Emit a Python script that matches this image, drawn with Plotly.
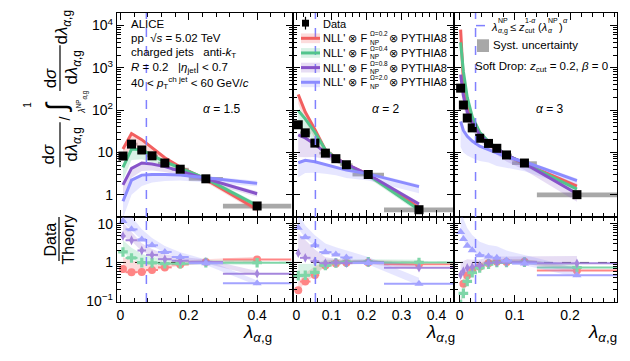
import plotly.graph_objects as go

# page is shown with the browser's 8 px body margin, so the figure is drawn
# 16 px smaller and every reference pixel position is shifted by 8 px
OX, OY = 8, 8
W, H = 614, 345

# ---------------- values ----------------
# alpha = 1.5
edges_a15 = [0, 0.015, 0.05, 0.075, 0.11, 0.15, 0.2, 0.3, 0.5]
data_a15 = [8.2, 15.7, 11.4, 8.3, 5.6, 4.0, 2.37, 0.54]
syst_a15 = [0.1, 0.08, 0.08, 0.07, 0.07, 0.08, 0.1, 0.13]
red_a15 = [12, 28, 20, 13, 7.5, 4.5, 2.3, 0.45]
green_a15 = [4.4, 12, 11.5, 8.5, 6.0, 4.3, 2.4, 0.55]
purple_a15 = [1.7, 4.2, 5.6, 5.3, 4.6, 3.6, 2.3, 1.05]
blue_a15 = [0.7, 2.2, 2.9, 3.0, 3.0, 2.9, 2.5, 1.85]
red_lo_a15 = [0.5, 0.5, 0.55, 0.65, 0.75, 0.8, 0.85, 0.85]
green_lo_a15 = [0.5, 0.55, 0.6, 0.7, 0.8, 0.85, 0.85, 0.85]
purple_lo_a15 = [0.45, 0.6, 0.65, 0.7, 0.75, 0.8, 0.85, 0.85]
blue_lo_a15 = [0.4, 0.45, 0.55, 0.65, 0.7, 0.75, 0.8, 0.85]
band_hi_a15 = [1.05, 1.05, 1.05, 1.05, 1.05, 1.08, 1.1, 1.15]

# alpha = 2
edges_a2 = [0, 0.01, 0.04, 0.065, 0.1, 0.125, 0.16, 0.25, 0.45]
data_a2 = [45, 29, 16.6, 9.6, 7.1, 5.1, 3.0, 0.44]
syst_a2 = [0.1, 0.08, 0.08, 0.07, 0.07, 0.08, 0.1, 0.13]
red_a2 = [235, 90, 35, 11.5, 7.5, 5.2, 3.0, 0.49]
green_a2 = [98, 62, 30, 11.5, 7.3, 5.0, 2.9, 0.44]
purple_a2 = [26, 22, 15.5, 10, 7.2, 5.3, 3.0, 0.6]
blue_a2 = [5.7, 6.5, 6.0, 5.2, 4.4, 3.8, 3.1, 1.55]
red_lo_a2 = [0.6, 0.6, 0.6, 0.75, 0.8, 0.85, 0.85, 0.85]
green_lo_a2 = [0.5, 0.5, 0.6, 0.7, 0.8, 0.85, 0.85, 0.85]
purple_lo_a2 = [0.3, 0.35, 0.5, 0.7, 0.8, 0.85, 0.85, 0.85]
blue_lo_a2 = [0.45, 0.5, 0.55, 0.6, 0.65, 0.65, 0.7, 0.7]
band_hi_a2 = [1.05, 1.05, 1.05, 1.05, 1.05, 1.08, 1.1, 1.12]

# alpha = 3
edges_a3 = [0, 0.004, 0.01, 0.018, 0.028, 0.045, 0.06, 0.075, 0.095, 0.14, 0.285]
data_a3 = [331, 132, 65, 38, 21.6, 16.3, 12.5, 8.7, 5.6, 1.0]
syst_a3 = [0.1, 0.08, 0.08, 0.07, 0.07, 0.07, 0.07, 0.08, 0.1, 0.13]
red_a3 = [8000, 470, 140, 60, 28, 17, 12, 8.5, 5.4, 1.6]
green_a3 = [4000, 825, 200, 70, 30, 18, 12.5, 8.7, 5.5, 1.35]
purple_a3 = [690, 220, 90, 50, 26, 17, 12.5, 8.7, 5.5, 1.05]
blue_a3 = [54, 33, 24, 18.5, 14, 11.5, 9.5, 7.8, 6.0, 2.15]
red_lo_a3 = [0.6, 0.65, 0.7, 0.75, 0.8, 0.8, 0.85, 0.85, 0.85, 0.85]
green_lo_a3 = [0.6, 0.65, 0.7, 0.75, 0.8, 0.8, 0.85, 0.85, 0.85, 0.85]
purple_lo_a3 = [0.5, 0.55, 0.6, 0.65, 0.7, 0.7, 0.7, 0.7, 0.7, 0.65]
blue_lo_a3 = [0.25, 0.3, 0.35, 0.4, 0.45, 0.5, 0.5, 0.55, 0.6, 0.65]
band_hi_a3 = [1.05, 1.05, 1.05, 1.05, 1.05, 1.05, 1.05, 1.08, 1.1, 1.12]

np_cut = [0.076, 0.054, 0.029]       # lambda^NP boundary per alpha
alpha_labels = ["1.5", "2", "3"]
omega_labels = ["0.2", "0.4", "0.8", "2.0"]

# ---------------- style ----------------
line_cols = ["#f25f5f", "#52c48c", "#8753c9", "#8c8cff"]
band_cols = ["rgba(242,95,95,0.22)", "rgba(82,196,140,0.22)",
             "rgba(135,83,201,0.2)", "rgba(140,140,255,0.22)"]
ratio_cols = ["#ff8585", "#7fd6a8", "#a586dc", "#a3a3ff"]
ratio_syms = ["circle", "cross", "diamond-tall", "triangle-up"]
np_col = "#8080ff"

panels = [
    dict(edges=edges_a15, data=data_a15, syst=syst_a15, hi=band_hi_a15,
         th=[red_a15, green_a15, purple_a15, blue_a15],
         lo=[red_lo_a15, green_lo_a15, purple_lo_a15, blue_lo_a15],
         xr=[-0.01, 0.505], dt=0.2, mdt=0.04),
    dict(edges=edges_a2, data=data_a2, syst=syst_a2, hi=band_hi_a2,
         th=[red_a2, green_a2, purple_a2, blue_a2],
         lo=[red_lo_a2, green_lo_a2, purple_lo_a2, blue_lo_a2],
         xr=[-0.01, 0.45], dt=0.1, mdt=0.02),
    dict(edges=edges_a3, data=data_a3, syst=syst_a3, hi=band_hi_a3,
         th=[red_a3, green_a3, purple_a3, blue_a3],
         lo=[red_lo_a3, green_lo_a3, purple_lo_a3, blue_lo_a3],
         xr=[-0.01, 0.285], dt=0.1, mdt=0.02),
]


def fx(px):
    return (px - OX) / W


def fy(py):
    return 1 - (py - OY) / H


# pixel layout of the panels (reference pixels)
xpix = [117, 293, 454, 617]
top_pix = [12, 221]
bot_pix = [221, 308]

fig = go.Figure()


def axid(n):
    return "" if n == 1 else str(n)


for i, p in enumerate(panels):
    e = p["edges"]
    cen = [(a + b) / 2 for a, b in zip(e[:-1], e[1:])]
    half = [(b - a) / 2 for a, b in zip(e[:-1], e[1:])]
    xt, yt = "x" + axid(i + 1), "y" + axid(i + 1)
    xb, yb = "x" + str(i + 4), "y" + str(i + 4)

    # theory bands (top)
    for k in range(4):
        c = p["th"][k]
        lo = [v * f for v, f in zip(c, p["lo"][k])]
        hi = [v * f for v, f in zip(c, p["hi"])]
        fig.add_trace(go.Scatter(x=cen + cen[::-1], y=hi + lo[::-1], fill="toself",
                                 fillcolor=band_cols[k], line=dict(width=0),
                                 mode="lines", xaxis=xt, yaxis=yt, hoverinfo="skip"))
    # systematic boxes
    fig.add_trace(go.Bar(x=cen, y=[d * 2 * s for d, s in zip(p["data"], p["syst"])],
                         base=[d * (1 - s) for d, s in zip(p["data"], p["syst"])],
                         width=[2 * h for h in half], marker=dict(color="#a8a8a8", line=dict(width=0)),
                         xaxis=xt, yaxis=yt))
    # theory lines
    for k in range(4):
        fig.add_trace(go.Scatter(x=cen, y=p["th"][k], mode="lines",
                                 line=dict(color=line_cols[k], width=3),
                                 xaxis=xt, yaxis=yt))
    # data
    fig.add_trace(go.Scatter(x=cen, y=p["data"], mode="markers",
                             marker=dict(symbol="square", size=9, color="black"),
                             xaxis=xt, yaxis=yt))

    # ratio panel
    fig.add_trace(go.Scatter(x=p["xr"], y=[1, 1], mode="lines",
                             line=dict(color="black", width=1, dash="dash"),
                             xaxis=xb, yaxis=yb))
    for k in range(4):
        c = p["th"][k]
        r = [d / v for d, v in zip(p["data"], c)]
        r_lo = [d / (v * f) for d, v, f in zip(p["data"], c, p["hi"])]
        r_hi = [d / (v * f) for d, v, f in zip(p["data"], c, p["lo"][k])]
        fig.add_trace(go.Scatter(x=cen + cen[::-1], y=r_hi + r_lo[::-1], fill="toself",
                                 fillcolor=band_cols[k], line=dict(width=0),
                                 mode="lines", xaxis=xb, yaxis=yb, hoverinfo="skip"))
        fig.add_trace(go.Scatter(x=cen, y=r, mode="markers",
                                 marker=dict(symbol=ratio_syms[k], size=8 if k != 2 else 7,
                                             color=ratio_cols[k]),
                                 error_x=dict(type="data", array=half, color=ratio_cols[k],
                                              thickness=2, width=0),
                                 xaxis=xb, yaxis=yb))

    # NP boundary
    for xa, ya in [(xt, yt), (xb, yb)]:
        fig.add_shape(type="line", xref=xa, yref=ya + " domain", x0=np_cut[i], x1=np_cut[i],
                      y0=0, y1=1, line=dict(color=np_col, width=1.5, dash="dash"))

# ---------------- axes ----------------
axis_common = dict(showline=True, linecolor="black", linewidth=1.3, mirror="allticks",
                   ticks="inside", ticklen=7, tickwidth=1, tickcolor="black",
                   showgrid=False, zeroline=False, tickfont=dict(size=14, color="black"))

minor_top = [m * 10 ** d for d in range(0, 5) for m in range(2, 10)]
minor_bot = [m * 10 ** d for d in range(-1, 2) for m in range(2, 10)]

lay = {}
for i, p in enumerate(panels):
    xd = [fx(xpix[i]), fx(xpix[i + 1])]
    lay["xaxis" + axid(i + 1)] = dict(axis_common, domain=xd, range=p["xr"], anchor="y" + axid(i + 1),
                                      dtick=p["dt"], tick0=0, showticklabels=False,
                                      minor=dict(ticks="inside", ticklen=4, dtick=p["mdt"], tick0=0,
                                                 tickcolor="black"))
    lay["xaxis" + str(i + 4)] = dict(axis_common, domain=xd, range=p["xr"], anchor="y" + str(i + 4),
                                     matches="x" + axid(i + 1), dtick=p["dt"], tick0=0,
                                     minor=dict(ticks="inside", ticklen=4, dtick=p["mdt"], tick0=0,
                                                tickcolor="black"))
    lay["yaxis" + axid(i + 1)] = dict(axis_common, type="log", range=[-0.53, 4.3],
                                      domain=[fy(top_pix[1]), fy(top_pix[0])],
                                      anchor="x" + axid(i + 1),
                                      tickvals=[1, 10, 100, 1000, 10000],
                                      ticktext=["1", "10", "10<sup>2</sup>", "10<sup>3</sup>", "10<sup>4</sup>"],
                                      showticklabels=(i == 0),
                                      minor=dict(ticks="inside", ticklen=4, tickvals=minor_top,
                                                 tickcolor="black"))
    lay["yaxis" + str(i + 4)] = dict(axis_common, type="log", range=[-1.02, 1.17],
                                     domain=[fy(bot_pix[1]), fy(bot_pix[0])],
                                     anchor="x" + str(i + 4),
                                     tickvals=[0.1, 1, 10], ticktext=["10<sup>\u22121</sup>", "1", "10"],
                                     showticklabels=(i == 0),
                                     minor=dict(ticks="inside", ticklen=4, tickvals=minor_bot,
                                                tickcolor="black"))

fig.update_layout(**lay)
fig.update_layout(width=W, height=H, margin=dict(l=0, r=0, t=0, b=0),
                  plot_bgcolor="white", paper_bgcolor="white", showlegend=False,
                  barmode="overlay", font=dict(family="Liberation Sans, Arial", color="black"))


# ---------------- text ----------------
def ann(x, y, text, size=12, angle=0, xanchor="center"):
    fig.add_annotation(x=fx(x), y=fy(y), xref="paper", yref="paper", text=text,
                       showarrow=False, font=dict(size=size), textangle=angle,
                       xanchor=xanchor, yanchor="middle", borderpad=0)


def pline(x0, y0, x1, y1, color="black", width=1.0, dash=None):
    fig.add_shape(type="line", xref="paper", yref="paper", x0=fx(x0), x1=fx(x1),
                  y0=fy(y0), y1=fy(y1), line=dict(color=color, width=width, dash=dash))


def prect(x0, y0, x1, y1, color):
    fig.add_shape(type="rect", xref="paper", yref="paper", x0=fx(x0), x1=fx(x1),
                  y0=fy(y0), y1=fy(y1), fillcolor=color, line=dict(width=0))


dl = "d<i>λ</i><sub><i>α</i>,g</sub>"
# y title (top)
ann(49, 157, "d<i>σ</i>", 17, -90)
ann(73, 147, dl, 17, -90)
pline(60, 124, 60, 170, width=1.2)
ann(65, 120, "/", 14, -90)
ann(57, 108, "∫", 28, -90)
ann(28, 106, "1", 10, -90)
ann(82, 103, "<i>λ</i><sup>NP</sup><sub><i>α</i>,g</sub>", 9, -90)
ann(50, 79, "d<i>σ</i>", 17, -90)
ann(73, 68, dl, 17, -90)
pline(60, 45, 60, 92, width=1.2)
ann(63, 27, dl, 17, -90)
# y title (ratio)
ann(51, 244, "Data", 16, -90)
ann(69, 244, "Theory", 16, -90)
pline(59, 221, 59, 266, width=1.2)
# x titles
for xc in [257, 440, 602]:
    ann(xc, 340, "<i>λ</i><sub><i>α</i>,g</sub>", 19)

# alpha labels
for xc, a in zip([222, 386, 550], alpha_labels):
    ann(xc, 110, "<i>α</i> = " + a, 12)

# ALICE block
ann(130, 23, "ALICE", 11.5, xanchor="left")
ann(130, 38, "pp  √<i>s</i> = 5.02 TeV", 11.5, xanchor="left")
ann(130, 53, "charged jets   anti-<i>k</i><sub>T</sub>", 11.5, xanchor="left")
ann(130, 68, "<i>R</i> = 0.2   |<i>η</i><sub>jet</sub>| < 0.7", 11.5, xanchor="left")
ann(130, 84, "40 < <i>p</i><sub>T</sub><sup>ch jet</sup> < 60 GeV/<i>c</i>", 11.5, xanchor="left")

# legend (panel 2)
pline(305.5, 16, 305.5, 29, width=1.2)
prect(302, 19, 309, 26, "black")
ann(322, 23, "Data", 11, xanchor="left")
for k, (yr, om) in enumerate(zip([38, 53, 68, 83], omega_labels)):
    prect(301, yr - 5, 320, yr + 5, band_cols[k])
    pline(301, yr, 320, yr, color=line_cols[k], width=3)
    ann(322, yr, "NLL' ⊗ F", 11, xanchor="left")
    ann(369, yr + 4, "NP", 6.5, xanchor="left")
    ann(369, yr - 4.5, "Ω=" + om, 6.5, xanchor="left")
    ann(388, yr, "⊗ PYTHIA8", 11, xanchor="left")

# legend (panel 3)
pline(476, 25, 489, 25, color=np_col, width=1.5, dash="dash")
ann(490, 26, "<i>λ</i>", 11, xanchor="left")
ann(497, 20, "NP", 7, xanchor="left")
ann(497, 30.5, "<i>α</i>,g", 7, xanchor="left")
ann(509, 26, "≤ <i>z</i>", 11, xanchor="left")
ann(524, 20, "1-<i>α</i>", 7, xanchor="left")
ann(524, 30.5, "cut", 7, xanchor="left")
ann(537, 26, "(<i>λ</i>", 11, xanchor="left")
ann(547, 20, "NP", 7, xanchor="left")
ann(547, 30.5, "<i>α</i>", 7, xanchor="left")
ann(558, 26, ")", 11, xanchor="left")
ann(562, 20, "<i>α</i>", 7.5, xanchor="left")
prect(477, 39, 489, 52, "#a8a8a8")
ann(492, 45, "Syst. uncertainty", 11.5, xanchor="left")
ann(474, 67, "Soft Drop: <i>z</i><sub>cut</sub> = 0.2, <i>β</i> = 0", 11.5, xanchor="left")

fig.write_html("out.html")
